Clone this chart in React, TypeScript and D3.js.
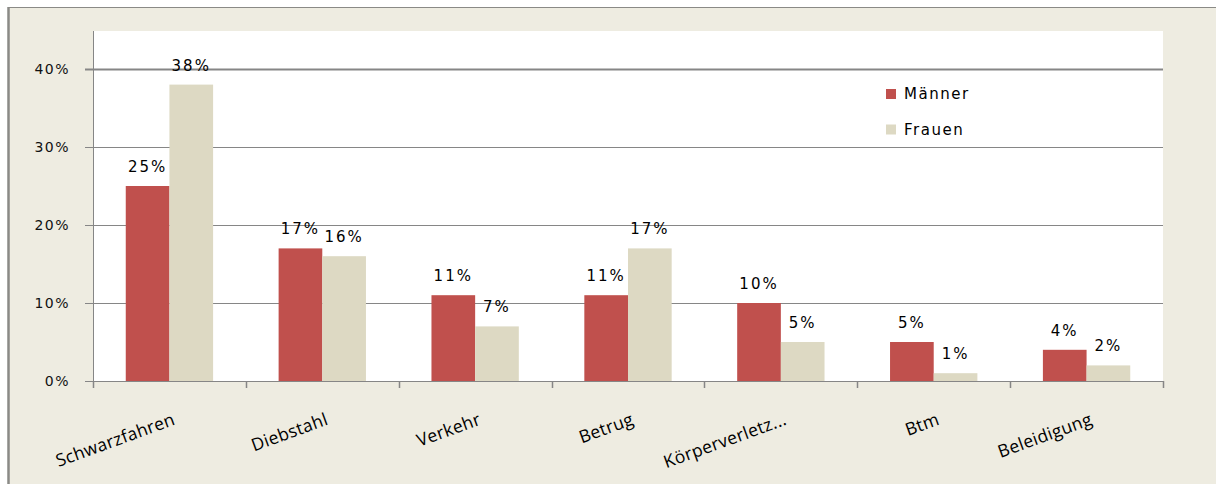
import React, { useEffect } from 'react';
import * as d3 from 'd3';

const categories = ['Schwarzfahren', 'Diebstahl', 'Verkehr', 'Betrug', 'Körperverletz...', 'Btm', 'Beleidigung'];
const maenner = [25, 17, 11, 11, 10, 5, 4];
const frauen = [38, 16, 7, 17, 5, 1, 2];
const seriesNames = ['Männer', 'Frauen'];
const yTicks = [0, 10, 20, 30, 40];

const colors = ['#C0504D', '#DDD9C3'];

export default function App() {
  useEffect(() => {
    const width = 1216;
    const height = 484;
    const margin = { top: 30, bottom: 103, left: 93, right: 53 };

    d3.select('#chart').selectAll('*').remove();

    const svg = d3
      .select('#chart')
      .append('svg')
      .attr('width', width)
      .attr('height', height)
      .style('position', 'absolute')
      .style('left', 0)
      .style('top', 0);

    // frame
    svg.append('rect').attr('width', width).attr('height', height).attr('fill', '#fff');
    svg.append('rect').attr('x', 9).attr('y', 7).attr('width', width - 9).attr('height', height - 7).attr('fill', '#EEECE1');
    svg.append('line').attr('x1', 8).attr('x2', width).attr('y1', 7.5).attr('y2', 7.5).attr('stroke', '#8a8a86').attr('stroke-width', 1);
    svg.append('line').attr('x1', 8.5).attr('x2', 8.5).attr('y1', 7).attr('y2', height).attr('stroke', '#8a8a86').attr('stroke-width', 2.5);

    const xScale = d3
      .scaleBand()
      .domain(categories)
      .range([margin.left, width - margin.right]);

    const inner = d3
      .scaleBand()
      .domain(seriesNames)
      .range([0, xScale.bandwidth()])
      .paddingOuter(0.75)
      .paddingInner(0);

    const yScale = d3
      .scaleLinear()
      .domain([0, 45])
      .range([height - margin.bottom, margin.top]);

    // plot area
    svg
      .append('rect')
      .attr('x', margin.left)
      .attr('y', margin.top + 1)
      .attr('width', width - margin.left - margin.right)
      .attr('height', yScale(0) - margin.top - 1)
      .attr('fill', '#fff');

    // gridlines
    svg
      .append('g')
      .selectAll('line')
      .data(yTicks.filter((t) => t > 0))
      .enter()
      .append('line')
      .attr('x1', margin.left - 8)
      .attr('x2', width - margin.right)
      .attr('y1', (d) => Math.round(yScale(d)) + 0.5)
      .attr('y2', (d) => Math.round(yScale(d)) + 0.5)
      .attr('stroke', '#868686')
      .attr('stroke-width', (d) => (d === 40 ? 2 : 1));

    // y labels
    svg
      .append('g')
      .selectAll('text')
      .data(yTicks)
      .enter()
      .append('text')
      .attr('x', 70)
      .attr('y', (d) => yScale(d))
      .attr('dy', '0.36em')
      .attr('text-anchor', 'end')
      .attr('font-family', 'DejaVu Sans')
      .attr('font-size', 14)
      .attr('letter-spacing', 1.5)
      .attr('fill', '#111')
      .text((d) => `${d}%`);

    const series = [maenner, frauen];

    // bars
    const groups = svg
      .append('g')
      .selectAll('g')
      .data(categories)
      .enter()
      .append('g')
      .attr('transform', (d) => `translate(${xScale(d)},0)`);

    groups
      .selectAll('rect')
      .data((_, i) => series.map((s, k) => ({ name: seriesNames[k], value: s[i], k })))
      .enter()
      .append('rect')
      .attr('x', (d) => inner(d.name) as number)
      .attr('y', (d) => yScale(d.value))
      .attr('width', inner.bandwidth())
      .attr('height', (d) => yScale(0) - yScale(d.value))
      .attr('fill', (d) => colors[d.k]);

    groups
      .selectAll('text')
      .data((_, i) => series.map((s, k) => ({ name: seriesNames[k], value: s[i], k })))
      .enter()
      .append('text')
      .attr('x', (d) => (inner(d.name) as number) + inner.bandwidth() / 2)
      .attr('y', (d) => yScale(d.value) - 14)
      .attr('text-anchor', 'middle')
      .attr('font-family', 'DejaVu Sans')
      .attr('font-size', 15)
      .attr('letter-spacing', 2)
      .attr('fill', '#000')
      .text((d) => `${d.value}%`);

    // axes lines
    const y0 = yScale(0);
    svg.append('line').attr('x1', margin.left + 0.5).attr('x2', margin.left + 0.5).attr('y1', margin.top + 1).attr('y2', y0).attr('stroke', '#868686');
    svg.append('line').attr('x1', margin.left - 8).attr('x2', width - margin.right).attr('y1', y0 + 0.5).attr('y2', y0 + 0.5).attr('stroke', '#868686');

    const bounds = categories.map((c) => xScale(c) as number).concat([width - margin.right]);
    svg
      .append('g')
      .selectAll('line')
      .data(bounds)
      .enter()
      .append('line')
      .attr('x1', (d) => Math.round(d) + 0.5)
      .attr('x2', (d) => Math.round(d) + 0.5)
      .attr('y1', y0)
      .attr('y2', y0 + 7)
      .attr('stroke', '#868686')
      .attr('stroke-width', 1.5);

    // x labels, rotated round their top-right corner
    svg
      .append('g')
      .selectAll('text')
      .data(categories)
      .enter()
      .append('text')
      .attr('transform', (d) => `translate(${(xScale(d) as number) + xScale.bandwidth() / 2 + 2},${y0 + 30}) rotate(-20)`)
      .attr('dy', '0.8em')
      .attr('text-anchor', 'end')
      .attr('font-family', 'Open Sans')
      .attr('font-size', 17.5)
      .attr('letter-spacing', 0.3)
      .attr('fill', '#000')
      .text((d) => d);

    // legend
    const legend = svg
      .append('g')
      .selectAll('g')
      .data(seriesNames)
      .enter()
      .append('g')
      .attr('transform', (_, i) => `translate(886,${89 + i * 35.5})`);

    legend.append('rect').attr('width', 10).attr('height', 10).attr('fill', (_, i) => colors[i]);
    legend
      .append('text')
      .attr('x', 18)
      .attr('y', 5)
      .attr('dy', '0.36em')
      .attr('font-family', 'DejaVu Sans')
      .attr('font-size', 15)
      .attr('letter-spacing', 1.5)
      .attr('fill', '#000')
      .text((d) => d);
  }, []);

  return <div id="chart"></div>;
}
